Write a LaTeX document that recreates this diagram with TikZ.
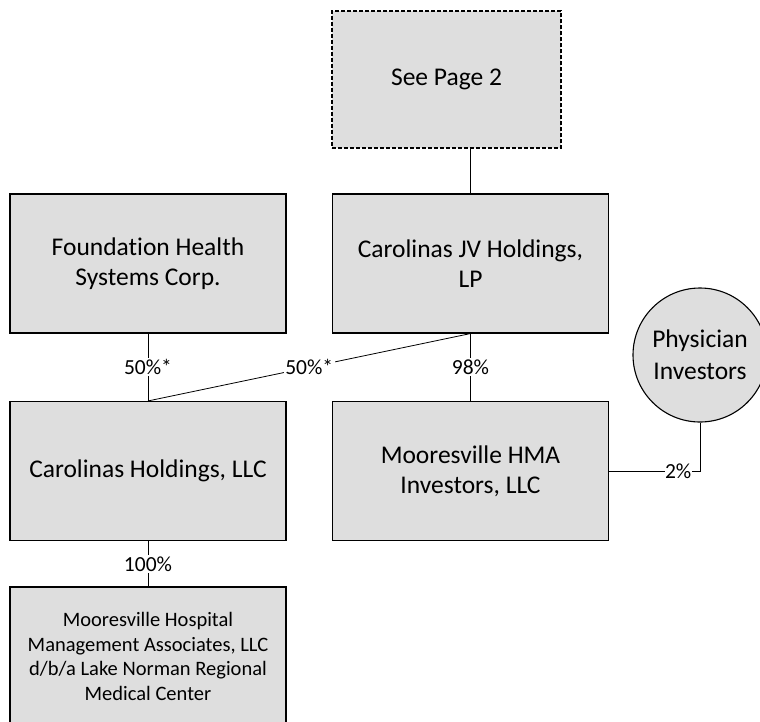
\documentclass[tikz,border=0pt]{standalone}
\usepackage{fontspec}
\setmainfont{Carlito}[Ligatures=NoCommon]
\usetikzlibrary{calc}

\begin{document}
\begin{tikzpicture}[x=1pt,y=-1pt,
		entity/.style={draw=black,line width=1.1pt,fill=black!13,minimum width=276pt,minimum height=139pt,inner sep=0pt,align=center,font=\fontsize{25.5}{30}\selectfont},
		pagebox/.style={entity,dash pattern=on 4pt off 2pt,minimum width=229pt,minimum height=137pt},
		holder/.style={draw=black,line width=1.1pt,fill=black!13,circle,minimum size=134pt,inner sep=0pt,align=center,font=\fontsize{25.5}{32}\selectfont},
		link/.style={draw=black,line width=0.8pt},
		share/.style={fill=white,inner sep=1.5pt,font=\fontsize{21.5}{24}\selectfont}]
			\useasboundingbox (0,0) rectangle (760,721);
			\coordinate (SP) at (446.5,79.5);
			\coordinate (FH) at (148,263.5);
			\coordinate (JV) at (470.5,263.5);
			\coordinate (CH) at (148,471);
			\coordinate (MH) at (470.5,471);
			\coordinate (PI) at (700,355);
			\coordinate (LN) at (148,656.5);
			\node[pagebox] (seepage) at (SP) {See Page 2};
			\node[entity] (foundation) at (FH) {Foundation Health\\Systems Corp.};
			\node[entity] (jvhold) at (JV) {Carolinas JV Holdings,\\LP};
			\node[entity] (carhold) at (CH) {Carolinas Holdings, LLC};
			\node[entity] (hmainv) at (MH) {Mooresville HMA\\Investors, LLC};
			\node[holder] (physinv) at (PI) {Physician\\Investors};
			\node[entity,font=\fontsize{20.5}{24.4}\selectfont] (hospital) at (LN) {Mooresville Hospital\\Management Associates, LLC\\d/b/a Lake Norman Regional\\Medical Center};
			\draw[link] (jvhold.north) -- (jvhold.north |- seepage.south);
			\draw[link] (foundation.south) -- (carhold.north) node[share,midway] (fhshare) {50\%*};
			\draw[link] (jvhold.south) -- (carhold.north) node[share,midway] (jvshare) {50\%*};
			\draw[link] (jvhold.south) -- (hmainv.north) node[share,midway] (hmashare) {98\%};
			\draw[link] (physinv.south) |- (hmainv.east) node[share,pos=0.62,inner sep=0.5pt] (physhare) {2\%};
			\draw[link] (carhold.south) -- (hospital.north) node[share,midway] (lnshare) {100\%};
		\end{tikzpicture}
\end{document}
